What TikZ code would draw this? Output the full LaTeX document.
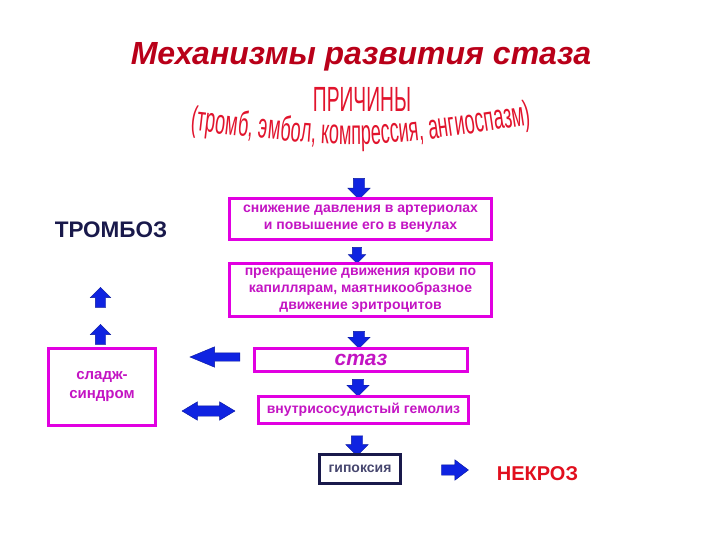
\documentclass[tikz,border=0pt]{standalone}
\usepackage{fontspec}
\setmainfont{Liberation Sans}
\newfontfamily\wordart[FakeStretch=0.55]{Liberation Sans}
\newfontfamily\wordarc[FakeStretch=0.52]{Liberation Sans}
\usetikzlibrary{shapes.arrows,decorations.text}

\definecolor{titlered}{RGB}{185,0,25}
\definecolor{artred}{RGB}{225,20,45}
\definecolor{boxpink}{RGB}{225,0,225}
\definecolor{textpink}{RGB}{195,20,195}
\definecolor{arrowblue}{RGB}{15,35,225}
\definecolor{navy}{RGB}{25,25,75}
\definecolor{necred}{RGB}{225,15,30}

\begin{document}
\begin{tikzpicture}[x=1pt, y=-1pt,
  stepbox/.style    = {draw=boxpink, line width=2.6pt, text=textpink, align=center,
                       font=\fontsize{14}{17}\selectfont\bfseries, inner sep=0pt},
  blockarrow/.style = {single arrow, fill=arrowblue, draw=arrowblue!70!black,
                       line width=0.4pt, inner sep=5pt, single arrow head extend=5pt},
  downarrow/.style  = {blockarrow, shape border rotate=270, minimum height=21pt,
                       inner sep=5.5pt, single arrow head extend=5.5pt},
  uparrow/.style    = {blockarrow, shape border rotate=90, minimum height=20pt},
  bigword/.style    = {font=\fontsize{22.5}{24}\selectfont\bfseries, anchor=base}
]
\useasboundingbox (0,0) rectangle (720,540);

% ---- title and causes ----
\node[font=\fontsize{32}{32}\selectfont\bfseries\itshape, text=titlered, anchor=base]
  (title) at (361,65) {Механизмы развития стаза};
\node[font=\wordart\fontsize{35}{35}\selectfont, text=artred, anchor=base, inner sep=0pt]
  (causes) at (362,112) {ПРИЧИНЫ};
\path[decorate, decoration={text along path, text align=center,
  text={|\wordarc\fontsize{35}{35}\selectfont\color{artred}|(тромб, эмбол, компрессия, ангиоспазм)}}]
  (188,130) .. controls (362,150) .. (534,124);

% ---- main chain ----
\node[downarrow] (a1) at (359,186) {};
\node[stepbox, minimum width=262pt, minimum height=41pt] (drop) at (360.5,219)
  {снижение давления в артериолах\\и повышение его в венулах};
\node[downarrow, minimum height=16pt, inner sep=4.5pt, single arrow head extend=4pt] (a2) at (357,253) {};
\node[stepbox, minimum width=262pt, minimum height=53pt] (stop) at (360.5,290)
  {прекращение движения крови по\\капиллярам, маятникообразное\\движение эритроцитов};
\node[downarrow, minimum height=17pt] (a3) at (359,337) {};
\node[stepbox, minimum width=213pt, minimum height=23pt,
  font=\fontsize{21}{21}\selectfont\bfseries\itshape] (stasis) at (361,360) {стаз};
\node[downarrow, minimum height=17pt] (a4) at (358,385) {};
\node[stepbox, minimum width=210pt, minimum height=27pt] (hemolysis) at (363.5,410)
  {внутрисосудистый гемолиз};
\node[downarrow, minimum height=20pt] (a5) at (357,443) {};
\node[stepbox, draw=navy, text=navy!80, minimum width=81pt, minimum height=29pt] (hypoxia)
  at (360,469) {гипоксия};
\node[blockarrow, minimum height=27pt, single arrow tip angle=74] (a6) at (451.5,470) {};
\node[bigword, text=necred, font=\fontsize{20}{22}\selectfont\bfseries] (necrosis) at (537.5,480) {НЕКРОЗ};

% ---- left side ----
\node[bigword, text=navy] (thrombosis) at (111,237) {ТРОМБОЗ};
\node[uparrow] (a7) at (100.5,300) {};
\node[uparrow] (a8) at (100.5,337) {};
\node[stepbox, minimum width=107pt, minimum height=77pt, font=\fontsize{15}{19}\selectfont\bfseries]
  (sludge) at (102,387) {сладж-\\синдром};
\node[blockarrow, shape border rotate=180, minimum height=50pt, inner sep=4pt,
  single arrow head extend=6pt, single arrow tip angle=45] (a9) at (220,357) {};
\node[double arrow, fill=arrowblue, draw=arrowblue!70!black, line width=0.4pt, inner sep=5pt,
  double arrow head extend=4pt, double arrow tip angle=62, minimum height=53pt] (a10) at (208.5,411) {};

\end{tikzpicture}
\end{document}
